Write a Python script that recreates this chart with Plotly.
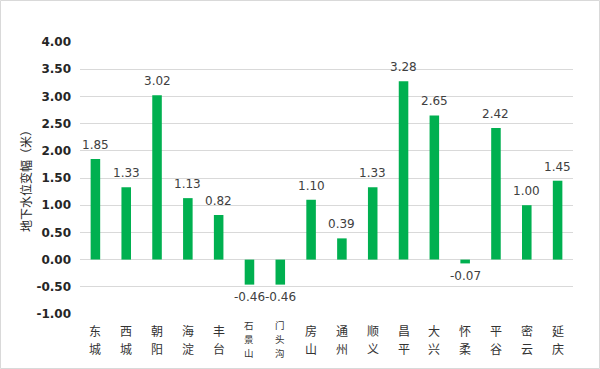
import plotly.graph_objects as go

districts = ["东城", "西城", "朝阳", "海淀", "丰台", "石景山", "门头沟", "房山",
             "通州", "顺义", "昌平", "大兴", "怀柔", "平谷", "密云", "延庆"]
changes = [1.85, 1.33, 3.02, 1.13, 0.82, -0.46, -0.46, 1.10,
           0.39, 1.33, 3.28, 2.65, -0.07, 2.42, 1.00, 1.45]
y_ticks = [-1.0, -0.5, 0.0, 0.5, 1.0, 1.5, 2.0, 2.5, 3.0, 3.5, 4.0]
y_title = "地下水位变幅（米）"

W, H = 600, 369
L, R, T, B = 80, 27, 42, 55
PW, PH = W - L - R, H - T - B

fig = go.Figure()
fig.add_trace(go.Bar(
    x=districts, y=changes,
    marker=dict(color="#00b050", line=dict(width=0)),
    width=0.31, hoverinfo="skip",
))

annotations = []
# value labels
for name, v in zip(districts, changes):
    annotations.append(dict(
        x=name, xref="x", y=v, yref="y", yanchor="middle",
        yshift=14 if v >= 0 else -12.5, text=f"{v:.2f}", showarrow=False,
        font=dict(family="DejaVu Sans", size=12, color="#404040"),
    ))
# vertical category labels
for name in districts:
    chars = list(name)
    if len(chars) == 2:
        centers, fs = [330.5, 348.5], 12
    else:
        centers, fs = [324.5, 338.5, 352.5], 9.5
    for ch, c in zip(chars, centers):
        annotations.append(dict(
            x=name, xref="x", y=0, yref="paper", yanchor="middle",
            yshift=-(c - (H - B)), text=ch, showarrow=False,
            font=dict(family="Noto Sans CJK SC", size=fs, color="#333333"),
        ))

fig.update_layout(
    width=W, height=H,
    margin=dict(l=L, r=R, t=T, b=B, autoexpand=False),
    paper_bgcolor="white", plot_bgcolor="white",
    showlegend=False,
    annotations=annotations,
    shapes=[dict(
        type="rect", xref="paper", yref="paper",
        x0=(0.5 - L) / PW, x1=(W - 0.5 - L) / PW,
        y0=((H - B) - (H - 0.5)) / PH, y1=((H - B) - 0.5) / PH,
        line=dict(color="#d9d9d9", width=1), fillcolor="rgba(0,0,0,0)",
        layer="below",
    )],
)
fig.update_xaxes(showticklabels=False, showgrid=False, zeroline=False,
                 showline=False, automargin=False,
                 range=[-0.5, len(districts) - 0.5])
fig.update_yaxes(
    range=[-1, 4], tickvals=y_ticks, automargin=False,
    ticktext=[f"{v:.2f}" for v in y_ticks],
    tickfont=dict(family="DejaVu Sans", size=12, color="#262626", weight="bold"),
    showgrid=True, gridcolor="#d9d9d9", gridwidth=1,
    zeroline=True, zerolinecolor="#d9d9d9", zerolinewidth=1,
    showline=False, ticks="", ticklabelstandoff=8,
    title=dict(text=y_title, standoff=2,
               font=dict(family="Noto Sans CJK SC", size=12, color="#262626")),
)

fig.write_html("out.html", config={"displayModeBar": False},
               post_script="document.body.style.margin='0';document.body.style.overflow='hidden';")
